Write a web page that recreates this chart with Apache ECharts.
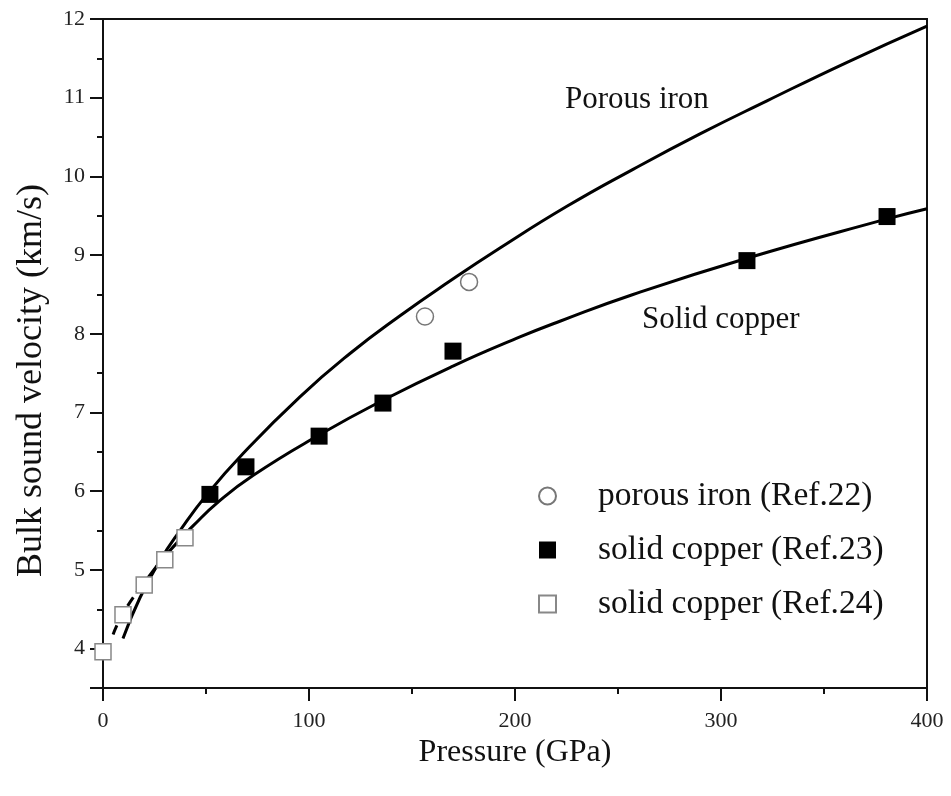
<!DOCTYPE html>
<html>
<head>
<meta charset="utf-8">
<title>Bulk sound velocity vs pressure</title>
<script src="https://cdn.jsdelivr.net/npm/echarts@6/dist/echarts.min.js"></script>
<style>
    html, body { margin: 0; padding: 0; background: #fff; }
    #chart { width: 951px; height: 796px; }
</style>
</head>
<body>
<div id="chart"></div>
<script>
    // curves: [pressure GPa, velocity km/s]
    var ironCurve = [
        [9.7, 4.13], [18, 4.65], [27.7, 5.12], [37.4, 5.50], [50.5, 5.96], [68, 6.48],
        [95.6, 7.20], [119.9, 7.75], [144.2, 8.23], [168.4, 8.67], [192.7, 9.09],
        [225.2, 9.62], [257.3, 10.09], [289.8, 10.54], [322.3, 10.96], [361.2, 11.45], [400, 11.91]
    ];
    var copperDashed = [[4.9, 4.18], [10, 4.46], [20, 4.84]];
    var copperCurve = [
        [20, 4.84], [30, 5.17], [40, 5.46], [43.7, 5.56], [55.3, 5.85], [72.8, 6.20],
        [105.3, 6.72], [135.4, 7.15], [169.9, 7.59], [202.4, 7.96], [221.8, 8.16],
        [257.3, 8.50], [312.6, 8.96], [380.6, 9.46], [400, 9.59]
    ];

    // measured points
    var ironRef22 = [[156.3, 8.22], [177.7, 8.66]];
    var copperRef23 = [[51.9, 5.96], [69.4, 6.31], [104.9, 6.70], [135.9, 7.12], [169.9, 7.78], [312.6, 8.93], [380.6, 9.49]];
    var copperRef24 = [[0, 3.96], [9.7, 4.43], [20, 4.81], [30, 5.13], [39.8, 5.41]];

    var xTicks = [0, 100, 200, 300, 400];
    var yTicks = [4, 5, 6, 7, 8, 9, 10, 11, 12];

    var font = '"Liberation Serif", "DejaVu Serif", serif';

    var myChart = echarts.init(document.getElementById('chart'), null, {renderer: 'canvas'});
    var option = {
        backgroundColor: '#fff',
        animation: false,
        textStyle: { fontFamily: font, color: '#111' },
        grid: {
            left: 103, right: 24, top: 19, bottom: 108,
            show: true, borderColor: '#111', borderWidth: 2, backgroundColor: 'transparent'
        },
        legend: {
            orient: 'vertical',
            left: 533, top: 473,
            itemWidth: 17, itemHeight: 17,
            itemGap: 18,
            data: ['porous iron (Ref.22)', 'solid copper (Ref.23)', 'solid copper (Ref.24)'],
            textStyle: { fontFamily: font, fontSize: 33.5, color: '#111', lineHeight: 36, padding: [0, 0, 0, 37] }
        },
        xAxis: [
            {
                type: 'value', min: 0, max: 400, interval: 100, position: 'bottom',
                name: 'Pressure (GPa)', nameLocation: 'middle', nameGap: 49,
                nameTextStyle: { fontFamily: font, fontSize: 32, color: '#111' },
                axisLine: { lineStyle: { color: '#111', width: 2 } },
                axisTick: { inside: false, length: 13, lineStyle: { color: '#111', width: 2 } },
                axisLabel: {
                    margin: 22, fontFamily: font, fontSize: 22, color: '#222',
                    formatter: function (v) { return xTicks.indexOf(v) >= 0 ? String(v) : ''; }
                },
                splitLine: { show: false }
            },
            {
                type: 'value', min: 0, max: 400, interval: 50, position: 'bottom',
                axisLine: { show: false },
                axisTick: { length: 6, lineStyle: { color: '#111', width: 2 } },
                axisLabel: { show: false },
                splitLine: { show: false }
            }
        ],
        yAxis: [
            {
                type: 'value', min: 3.5, max: 12, splitNumber: 8, position: 'left',
                name: 'Bulk sound velocity (km/s)', nameLocation: 'middle', nameGap: 53,
                nameTextStyle: { fontFamily: font, fontSize: 36, color: '#111', padding: [0, 54, 0, 0] },
                axisLine: { show: true, lineStyle: { color: '#111', width: 2 } },
                axisTick: { show: true, length: 13, lineStyle: { color: '#111', width: 2 } },
                axisLabel: {
                    margin: 18, fontFamily: font, fontSize: 22, color: '#222',
                    formatter: function (v) { return yTicks.indexOf(v) >= 0 ? String(v) : ''; }
                },
                splitLine: { show: false }
            },
            {
                type: 'value', min: 3.5, max: 12, interval: 0.5, position: 'left',
                axisLine: { show: false },
                axisTick: { show: true, length: 6, lineStyle: { color: '#111', width: 2 } },
                axisLabel: { show: false },
                splitLine: { show: false }
            }
        ],
        graphic: [
            { type: 'text', left: 565, top: 84, style: { text: 'Porous iron', font: '31px ' + font, fill: '#111' } },
            { type: 'text', left: 642, top: 304, style: { text: 'Solid copper', font: '31px ' + font, fill: '#111' } }
        ],
        series: [
            {
                name: 'Porous iron', type: 'line', data: ironCurve, showSymbol: false,
                smooth: true,
                lineStyle: { color: '#000', width: 3 }, z: 2
            },
            {
                name: 'Solid copper', type: 'line', data: copperCurve, showSymbol: false,
                smooth: true,
                lineStyle: { color: '#000', width: 3 }, z: 2
            },
            {
                name: 'Solid copper extrapolated', type: 'line', data: copperDashed, showSymbol: false,
                smooth: true,
                lineStyle: { color: '#000', width: 3, type: [10, 6] }, z: 2
            },
            {
                name: 'porous iron (Ref.22)', type: 'scatter', data: ironRef22,
                symbol: 'circle', symbolSize: 17,
                itemStyle: { color: '#fff', borderColor: '#777', borderWidth: 1.5, opacity: 1 }, z: 5
            },
            {
                name: 'solid copper (Ref.23)', type: 'scatter', data: copperRef23,
                symbol: 'rect', symbolSize: 17,
                itemStyle: { color: '#000', borderColor: '#000', borderWidth: 0, opacity: 1 }, z: 5
            },
            {
                name: 'solid copper (Ref.24)', type: 'scatter', data: copperRef24,
                symbol: 'rect', symbolSize: 16,
                itemStyle: { color: '#fff', borderColor: '#888', borderWidth: 1.5, opacity: 1 }, z: 5
            }
        ]
    };

    myChart.setOption(option);
    window.onresize = function () {
        myChart.resize();
    };
</script>
</body>
</html>
